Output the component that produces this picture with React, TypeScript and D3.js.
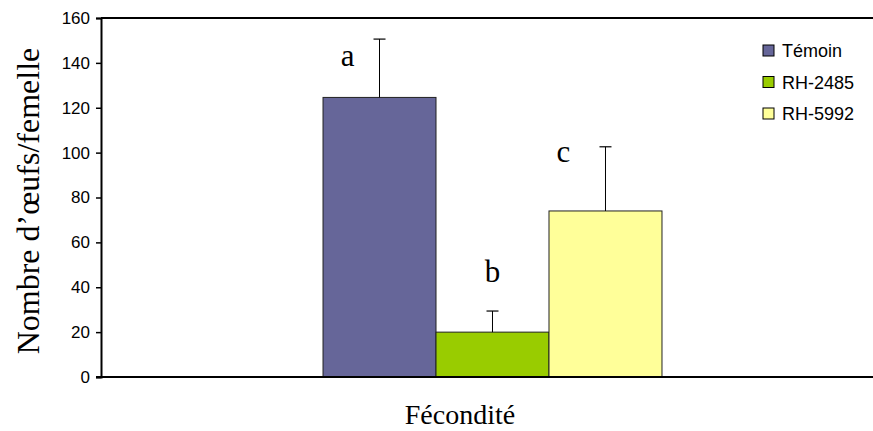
import React, { useEffect, useRef } from 'react';
import * as d3 from 'd3';

const categories = ['Fécondité'];
const series = ['Témoin', 'RH-2485', 'RH-5992'];
const means = [124.6, 20, 74];
const errors = [26, 9.4, 28.6];
const letters = ['a', 'b', 'c'];
const yTicks = [0, 20, 40, 60, 80, 100, 120, 140, 160];
const colors = ['#666699', '#99CC00', '#FFFF99'];

const W = 873;
const H = 431;
const serif = '"Liberation Serif", "Times New Roman", serif';
const sans = '"Liberation Sans", Arial, sans-serif';

const App = () => {
    const ref = useRef<SVGSVGElement>(null);

    useEffect(() => {
        const svg = d3.select(ref.current);
        svg.selectAll('*').remove();

        const left = 101, right = 884, top = 18, bottom = 377;

        const x0 = d3.scaleBand()
            .domain(categories)
            .range([left, right])
            .paddingOuter(0.655);

        const x1 = d3.scaleBand()
            .domain(series)
            .range([0, x0.bandwidth()])
            .padding(0);

        const y = d3.scaleLinear()
            .domain([0, 160])
            .range([bottom, top]);

        // top frame line
        svg.append('line')
            .attr('x1', left).attr('x2', W)
            .attr('y1', top).attr('y2', top)
            .attr('stroke', '#000').attr('stroke-width', 2);

        const g = svg.append('g').attr('transform', `translate(${x0(categories[0])},0)`);

        g.selectAll('rect')
            .data(series)
            .enter()
            .append('rect')
            .attr('x', d => x1(d)!)
            .attr('y', (d, i) => y(means[i]))
            .attr('width', x1.bandwidth())
            .attr('height', (d, i) => y(0) - y(means[i]))
            .attr('fill', (d, i) => colors[i])
            .attr('stroke', '#222')
            .attr('stroke-width', 1);

        // error bars (upper only)
        series.forEach((s, i) => {
            const cx = x1(s)! + x1.bandwidth() / 2;
            g.append('line')
                .attr('x1', cx).attr('x2', cx)
                .attr('y1', y(means[i])).attr('y2', y(means[i] + errors[i]))
                .attr('stroke', '#000').attr('stroke-width', 1);
            g.append('line')
                .attr('x1', cx - 6).attr('x2', cx + 6)
                .attr('y1', y(means[i] + errors[i])).attr('y2', y(means[i] + errors[i]))
                .attr('stroke', '#000').attr('stroke-width', 1.2);
        });

        // significance letters
        const letterDx = [-32, 0, -42];
        const letterGap = [-27, 29, -15];
        series.forEach((s, i) => {
            const cx = x1(s)! + x1.bandwidth() / 2;
            g.append('text')
                .attr('x', cx + letterDx[i])
                .attr('y', y(means[i] + errors[i]) - letterGap[i])
                .attr('text-anchor', 'middle')
                .attr('font-family', serif)
                .attr('font-size', 31)
                .text(letters[i]);
        });

        // y axis
        const yAxis = d3.axisLeft(y)
            .tickValues(yTicks)
            .tickSize(5)
            .tickPadding(6);

        const ya = svg.append('g')
            .attr('transform', `translate(${left},0)`)
            .call(yAxis);
        ya.select('.domain').attr('stroke-width', 2);
        ya.selectAll('.tick line').attr('stroke-width', 1.5);
        ya.selectAll('.tick text')
            .attr('font-family', sans)
            .attr('font-size', 17)
            .attr('fill', '#000');

        // bottom axis line
        svg.append('line')
            .attr('x1', left - 5).attr('x2', W)
            .attr('y1', bottom).attr('y2', bottom)
            .attr('stroke', '#000').attr('stroke-width', 2);

        // axis titles
        svg.append('text')
            .attr('transform', `translate(39,201) rotate(-90)`)
            .attr('text-anchor', 'middle')
            .attr('font-family', serif)
            .attr('font-size', 32)
            .text('Nombre d’œufs/femelle');

        svg.append('text')
            .attr('x', 460)
            .attr('y', 424)
            .attr('text-anchor', 'middle')
            .attr('font-family', serif)
            .attr('font-size', 28)
            .text('Fécondité');

        // legend
        const lg = svg.append('g').attr('transform', 'translate(763,45)');
        series.forEach((s, i) => {
            const row = lg.append('g').attr('transform', `translate(0,${i * 31.5})`);
            row.append('rect')
                .attr('width', 11).attr('height', 11)
                .attr('fill', colors[i])
                .attr('stroke', '#000').attr('stroke-width', 1);
            row.append('text')
                .attr('x', 19).attr('y', 12)
                .attr('font-family', sans)
                .attr('font-size', 18)
                .text(s);
        });
    }, []);

    return (
        <svg ref={ref} width={W} height={H} style={{ position: 'absolute', left: 0, top: 0, background: '#fff' }}></svg>
    );
};

export default App;
